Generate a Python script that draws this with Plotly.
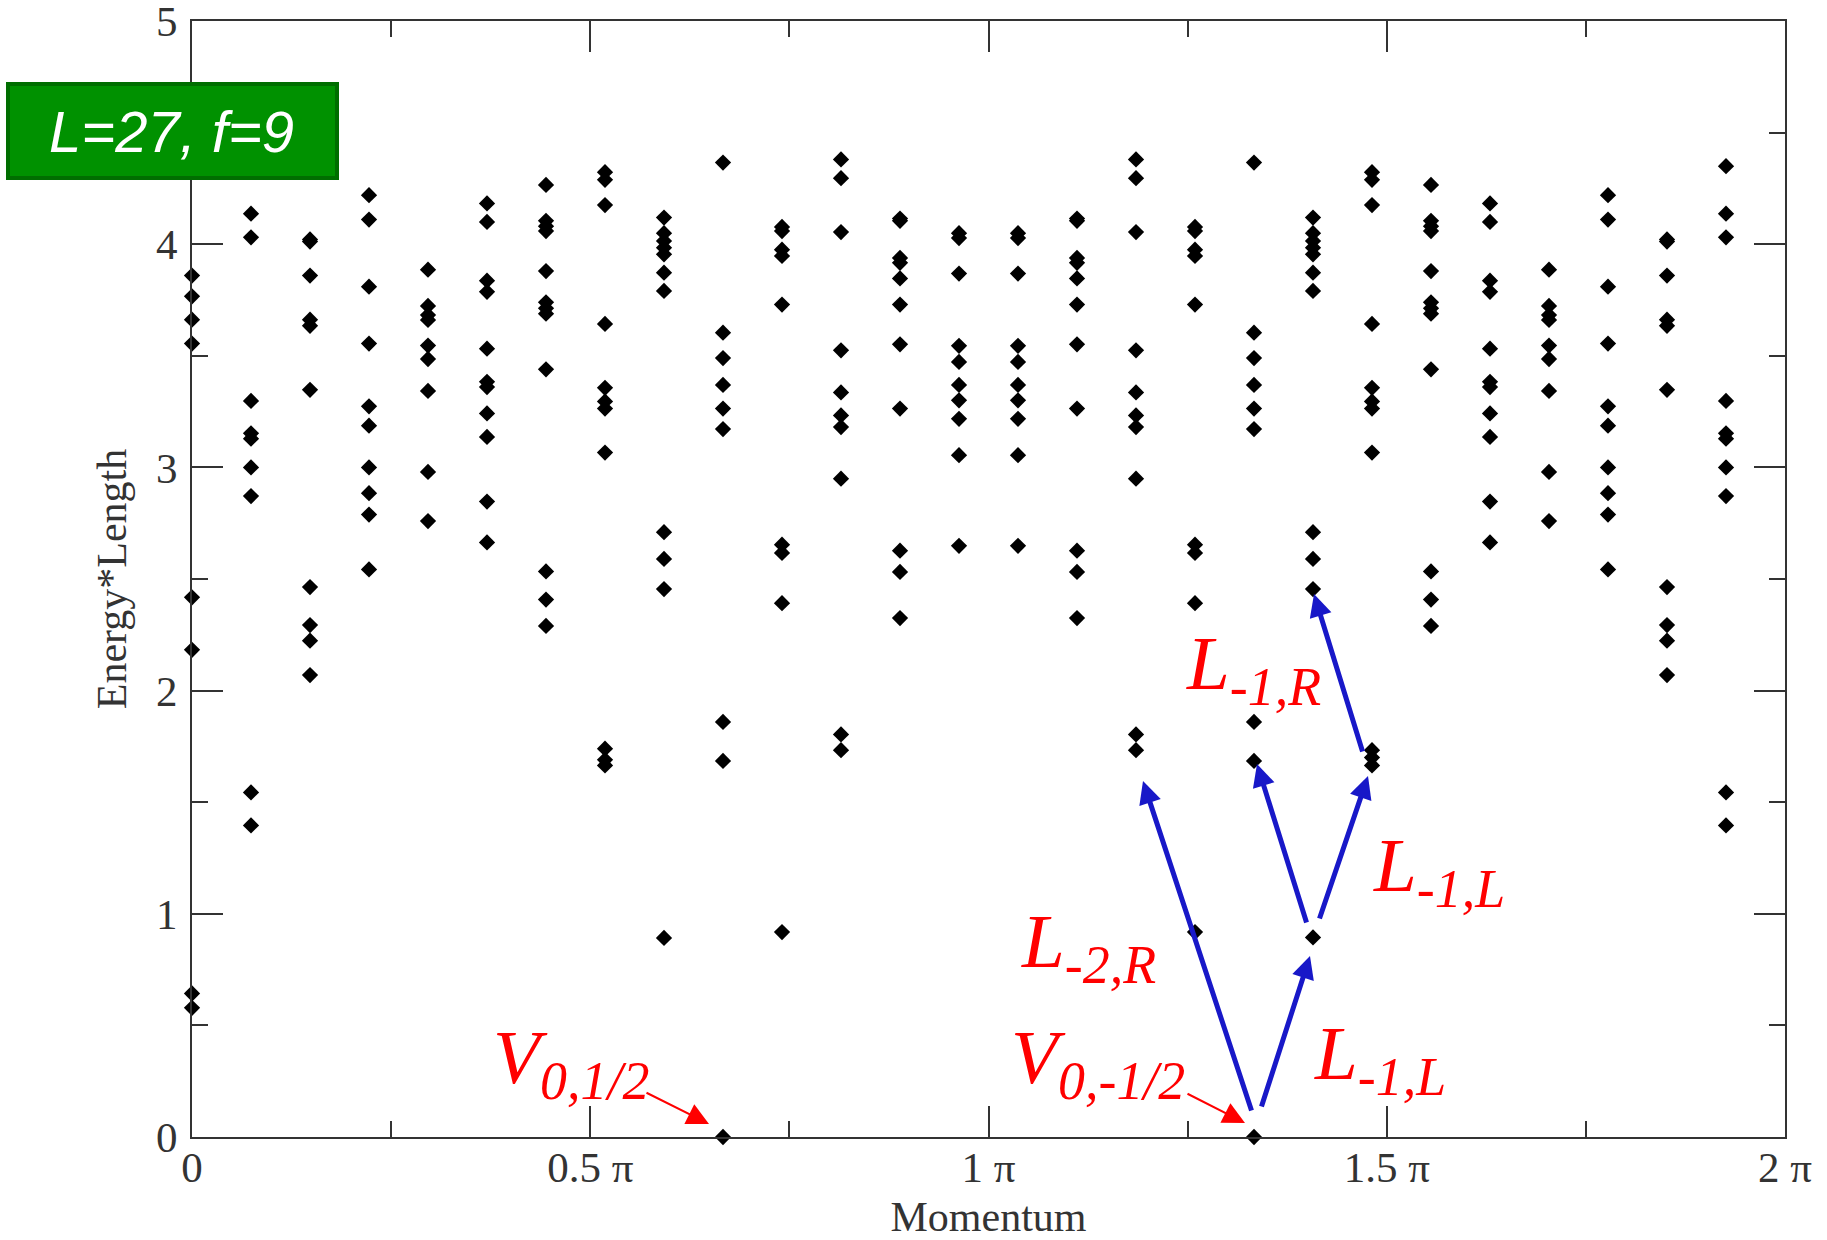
import math
import plotly.graph_objects as go

# ---------------- data ----------------
L_SITES = 27
momentum_index = list(range(27))          # k = 2*pi*n/27

E00 = [3.86, 3.767, 3.662, 3.555, 2.418, 2.183, 0.643, 0.579]
E01 = [4.35, 4.137, 4.031, 3.298, 3.153, 3.129, 3.0, 2.872, 1.544, 1.396]
E02 = [4.022, 4.012, 3.86, 3.662, 3.635, 3.348, 2.464, 2.294, 2.224, 2.07]
E03 = [4.22, 4.111, 3.81, 3.555, 3.274, 3.187, 3.0, 2.885, 2.789, 2.543]
E04 = [3.886, 3.724, 3.683, 3.661, 3.546, 3.486, 3.343, 2.98, 2.76]
E05 = [4.183, 4.1, 3.837, 3.787, 3.532, 3.384, 3.36, 3.242, 3.137, 2.847, 2.664]
E06 = [4.266, 4.105, 4.081, 4.059, 3.88, 3.74, 3.713, 3.689, 3.44, 2.534, 2.408, 2.29]
E07 = [4.323, 4.289, 4.176, 3.643, 3.357, 3.296, 3.264, 3.067, 1.74, 1.69, 1.665]
E08 = [4.12, 4.05, 4.015, 3.985, 3.955, 3.873, 3.791, 2.71, 2.59, 2.455, 0.892]
E09 = [4.366, 3.604, 3.49, 3.37, 3.264, 3.172, 1.86, 1.685, 0.0]
E10 = [4.078, 4.059, 3.976, 3.948, 3.73, 2.654, 2.617, 2.392, 0.918]
E11 = [4.38, 4.296, 4.055, 3.525, 3.336, 3.233, 3.181, 2.95, 1.804, 1.733]
E12 = [4.115, 4.105, 3.939, 3.917, 3.847, 3.73, 3.552, 3.264, 2.627, 2.532, 2.325]
E13 = [4.05, 4.028, 3.869, 3.545, 3.473, 3.37, 3.301, 3.218, 3.055, 2.649]
E14 = [4.05, 4.028, 3.869, 3.545, 3.473, 3.37, 3.301, 3.218, 3.055, 2.649]
E15 = [4.115, 4.105, 3.939, 3.917, 3.847, 3.73, 3.552, 3.264, 2.627, 2.532, 2.325]
E16 = [4.38, 4.296, 4.055, 3.525, 3.336, 3.233, 3.181, 2.95, 1.804, 1.733]
E17 = [4.078, 4.059, 3.976, 3.948, 3.73, 2.654, 2.617, 2.392, 0.918]
E18 = [4.366, 3.604, 3.49, 3.37, 3.264, 3.172, 1.86, 1.685, 0.0]
E19 = [4.12, 4.05, 4.015, 3.985, 3.955, 3.873, 3.791, 2.71, 2.59, 2.455, 0.894]
E20 = [4.323, 4.289, 4.176, 3.643, 3.357, 3.296, 3.264, 3.067, 1.733, 1.70, 1.665]
E21 = [4.266, 4.105, 4.081, 4.059, 3.88, 3.74, 3.713, 3.689, 3.44, 2.534, 2.408, 2.29]
E22 = [4.183, 4.1, 3.837, 3.787, 3.532, 3.384, 3.36, 3.242, 3.137, 2.847, 2.664]
E23 = [3.886, 3.724, 3.683, 3.661, 3.546, 3.486, 3.343, 2.98, 2.76]
E24 = [4.22, 4.111, 3.81, 3.555, 3.274, 3.187, 3.0, 2.885, 2.789, 2.543]
E25 = [4.022, 4.012, 3.86, 3.662, 3.635, 3.348, 2.464, 2.294, 2.224, 2.07]
E26 = [4.35, 4.137, 4.031, 3.298, 3.153, 3.129, 3.0, 2.872, 1.544, 1.396]

levels = [E00, E01, E02, E03, E04, E05, E06, E07, E08, E09, E10, E11, E12, E13,
          E14, E15, E16, E17, E18, E19, E20, E21, E22, E23, E24, E25, E26]

x_tick_vals = [0, 0.5 * math.pi, math.pi, 1.5 * math.pi, 2 * math.pi]
x_tick_text = ["0", "0.5 π", "1 π", "1.5 π", "2 π"]
x_minor_vals = [0.25 * math.pi, 0.75 * math.pi, 1.25 * math.pi, 1.75 * math.pi]
y_tick_vals = [0, 1, 2, 3, 4, 5]
y_tick_text = ["0", "1", "2", "3", "4", "5"]
y_minor_vals = [0.5, 1.5, 2.5, 3.5, 4.5]

xs, ys = [], []
for n, col in zip(momentum_index, levels):
    for e in col:
        xs.append(2 * math.pi * n / L_SITES)
        ys.append(e)

# ---------------- layout geometry ----------------
W, H = 1827, 1240
PL, PT, PW, PH = 192, 21, 1593, 1116
XMAX, YMAX = 2 * math.pi, 5.0


def dx(px):
    return (px - PL) / PW * XMAX


def dy(py):
    return (PT + PH - py) / PH * YMAX


def fx(px):
    return (px - PL) / PW


def fy(py):
    return (PT + PH - py) / PH


AX_COL = "#333333"
SERIF = "Liberation Serif, Times New Roman, serif"

fig = go.Figure()
fig.add_trace(go.Scatter(
    x=xs, y=ys, mode="markers",
    marker=dict(symbol="diamond", size=12.5, color="black", line=dict(width=0)),
    cliponaxis=False, showlegend=False, hoverinfo="skip"))

fig.update_layout(
    width=W, height=H,
    margin=dict(l=PL, r=W - PL - PW, t=PT, b=H - PT - PH),
    paper_bgcolor="white", plot_bgcolor="white",
    showlegend=False,
)

fig.update_xaxes(
    range=[0, XMAX], tickmode="array", tickvals=x_tick_vals, ticktext=x_tick_text,
    ticks="inside", ticklen=31, tickwidth=2, tickcolor=AX_COL,
    showline=True, linewidth=2, linecolor=AX_COL, mirror="allticks",
    showgrid=False, zeroline=False,
    minor=dict(tickvals=x_minor_vals, ticks="inside", ticklen=16,
               tickwidth=2, tickcolor=AX_COL, showgrid=False),
    tickfont=dict(family=SERIF, size=43, color=AX_COL),
    ticklabelstandoff=-9, ticklabeloverflow="allow",
    title=dict(text="Momentum", font=dict(family=SERIF, size=42, color=AX_COL),
               standoff=28),
    automargin=False,
)
fig.update_yaxes(
    range=[0, YMAX * 1.0001], tickmode="array", tickvals=y_tick_vals, ticktext=y_tick_text,
    ticks="inside", ticklen=31, tickwidth=2, tickcolor=AX_COL,
    showline=True, linewidth=2, linecolor=AX_COL, mirror="allticks",
    showgrid=False, zeroline=False,
    minor=dict(tickvals=y_minor_vals, ticks="inside", ticklen=16, tickwidth=2,
               tickcolor=AX_COL, showgrid=False),
    tickfont=dict(family=SERIF, size=43, color=AX_COL),
    ticklabelstandoff=4, ticklabeloverflow="allow",
    title=dict(text="Energy*Length", font=dict(family=SERIF, size=42, color=AX_COL),
               standoff=16),
    automargin=False,
)

# ---------------- green label box ----------------
fig.add_shape(type="rect", xref="paper", yref="paper",
              x0=fx(8), x1=fx(337), y0=fy(178), y1=fy(84),
              fillcolor="#009100", line=dict(color="#006e00", width=4),
              layer="above")
fig.add_annotation(xref="paper", yref="paper", x=fx(171), y=fy(131),
                   text="<i>L=27, f=9</i>", showarrow=False,
                   xanchor="center", yanchor="middle",
                   font=dict(family="Liberation Sans, Arial, sans-serif",
                             size=58, color="white"))

# ---------------- red labels ----------------
RED = "#ff0000"
labels = [
    ("V", "0,1/2", 491, 1062),
    ("V", "0,-1/2", 1009, 1062),
    ("L", "-2,R", 1019, 946),
    ("L", "-1,L", 1312, 1058),
    ("L", "-1,L", 1371, 870),
    ("L", "-1,R", 1184, 668),
]
for main, sub, lx, cy in labels:
    fig.add_annotation(xref="paper", yref="paper", x=fx(lx), y=fy(cy),
                       text=f"<i>{main}<sub>{sub}</sub></i>", showarrow=False,
                       xanchor="left", yanchor="middle",
                       font=dict(family=SERIF, size=77, color=RED))

# ---------------- arrows ----------------
BLUE = "#1818c8"
blue_arrows = [
    ((1252, 1112), (1143, 781)),
    ((1261, 1108), (1310, 956)),
    ((1307, 924), (1257, 764)),
    ((1319, 920), (1368, 776)),
    ((1363, 753), (1314, 594)),
]
for (tx, ty), (hx, hy) in blue_arrows:
    fig.add_annotation(x=dx(hx), y=dy(hy), ax=dx(tx), ay=dy(ty),
                       xref="x", yref="y", axref="x", ayref="y",
                       text="", showarrow=True, arrowhead=2, arrowsize=0.9,
                       arrowwidth=5, arrowcolor=BLUE, standoff=0)

red_arrows = [
    ((645, 1092), (709, 1124)),
    ((1186, 1093), (1245, 1123)),
]
for (tx, ty), (hx, hy) in red_arrows:
    fig.add_annotation(x=dx(hx), y=dy(hy), ax=dx(tx), ay=dy(ty),
                       xref="x", yref="y", axref="x", ayref="y",
                       text="", showarrow=True, arrowhead=2, arrowsize=2.2,
                       arrowwidth=2, arrowcolor=RED, standoff=0)

fig.write_html("out.html")
